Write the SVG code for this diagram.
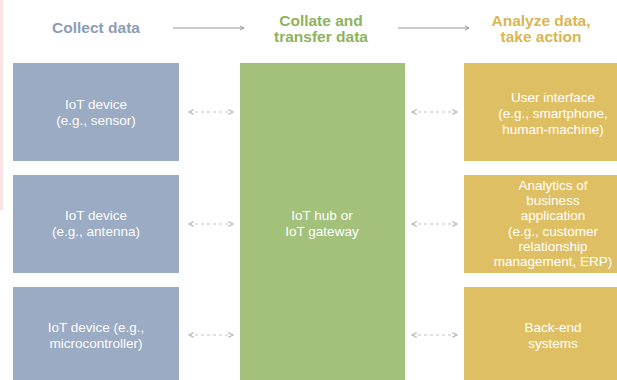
<svg xmlns="http://www.w3.org/2000/svg" width="617" height="380" viewBox="0 0 617 380">
  <style>
    .head { font-family: "Liberation Sans", Arial, sans-serif; font-size: 15.5px; font-weight: bold; text-anchor: middle; }
    .lbl { font-family: "Liberation Sans", Arial, sans-serif; font-size: 13.5px; fill: #ffffff; text-anchor: middle; }
    .blue { fill: #9aabc3; }
    .green { fill: #a4c17b; }
    .yellow { fill: #dfbf63; }
    .flow { stroke: #9a9a9a; stroke-width: 1; fill: none; }
    .dash { stroke: #c4c4c4; stroke-width: 1.2; stroke-dasharray: 3 3; fill: none; }
  </style>
  <defs>
    <marker id="arr" viewBox="0 0 6 6" refX="5" refY="3" markerWidth="6" markerHeight="6" orient="auto">
      <path d="M1,1 L5,3 L1,5" fill="none" stroke="#9a9a9a" stroke-width="1"/>
    </marker>
    <marker id="darr" viewBox="0 0 6 6" refX="5" refY="3" markerWidth="6" markerHeight="6" orient="auto-start-reverse">
      <path d="M1,1 L5,3 L1,5" fill="none" stroke="#bdbdbd" stroke-width="1"/>
    </marker>
  </defs>
  <rect width="617" height="380" fill="#ffffff"/>
  <rect x="0" y="0" width="3" height="210" fill="#fbe3e3"/>

  <!-- column headings -->
  <text class="head" x="96" y="33" fill="#8d9db5">Collect data</text>
  <text class="head" x="321" y="26" fill="#8db35c">Collate and</text>
  <text class="head" x="321" y="42" fill="#8db35c">transfer data</text>
  <text class="head" x="541" y="26" fill="#d9b650">Analyze data,</text>
  <text class="head" x="541" y="42" fill="#d9b650">take action</text>

  <g id="connectors">
    <line class="flow" x1="173" y1="28" x2="244" y2="28" marker-end="url(#arr)"/>
    <line class="flow" x1="398" y1="28" x2="469" y2="28" marker-end="url(#arr)"/>
    <line class="dash" x1="189" y1="112" x2="233" y2="112" marker-start="url(#darr)" marker-end="url(#darr)"/>
    <line class="dash" x1="189" y1="224" x2="233" y2="224" marker-start="url(#darr)" marker-end="url(#darr)"/>
    <line class="dash" x1="189" y1="335" x2="233" y2="335" marker-start="url(#darr)" marker-end="url(#darr)"/>
    <line class="dash" x1="412" y1="112" x2="457" y2="112" marker-start="url(#darr)" marker-end="url(#darr)"/>
    <line class="dash" x1="412" y1="224" x2="457" y2="224" marker-start="url(#darr)" marker-end="url(#darr)"/>
    <line class="dash" x1="412" y1="335" x2="457" y2="335" marker-start="url(#darr)" marker-end="url(#darr)"/>
  </g>

  <g id="device-sensor">
    <rect class="blue" x="13" y="63" width="166" height="98"/>
    <text class="lbl" x="96" y="109">IoT device</text>
    <text class="lbl" x="96" y="125">(e.g., sensor)</text>
  </g>
  <g id="device-antenna">
    <rect class="blue" x="13" y="175" width="166" height="98"/>
    <text class="lbl" x="96" y="220">IoT device</text>
    <text class="lbl" x="96" y="236">(e.g., antenna)</text>
  </g>
  <g id="device-microcontroller">
    <rect class="blue" x="13" y="287" width="166" height="95"/>
    <text class="lbl" x="96" y="332">IoT device (e.g.,</text>
    <text class="lbl" x="96" y="348">microcontroller)</text>
  </g>

  <g id="hub">
    <rect class="green" x="240" y="63" width="165" height="319"/>
    <text class="lbl" x="322" y="220">IoT hub or</text>
    <text class="lbl" x="322" y="236">IoT gateway</text>
  </g>

  <g id="user-interface">
    <rect class="yellow" x="464" y="63" width="155" height="98"/>
    <text class="lbl" x="553" y="102">User interface</text>
    <text class="lbl" x="553" y="118">(e.g., smartphone,</text>
    <text class="lbl" x="553" y="134">human-machine)</text>
  </g>
  <g id="analytics">
    <rect class="yellow" x="464" y="175" width="155" height="98"/>
    <text class="lbl" x="553" y="190">Analytics of</text>
    <text class="lbl" x="553" y="205.2">business</text>
    <text class="lbl" x="553" y="220.4">application</text>
    <text class="lbl" x="553" y="235.6">(e.g., customer</text>
    <text class="lbl" x="553" y="250.8">relationship</text>
    <text class="lbl" x="553" y="266">management, ERP)</text>
  </g>
  <g id="back-end">
    <rect class="yellow" x="464" y="287" width="155" height="95"/>
    <text class="lbl" x="553" y="332">Back-end</text>
    <text class="lbl" x="553" y="348">systems</text>
  </g>
</svg>
